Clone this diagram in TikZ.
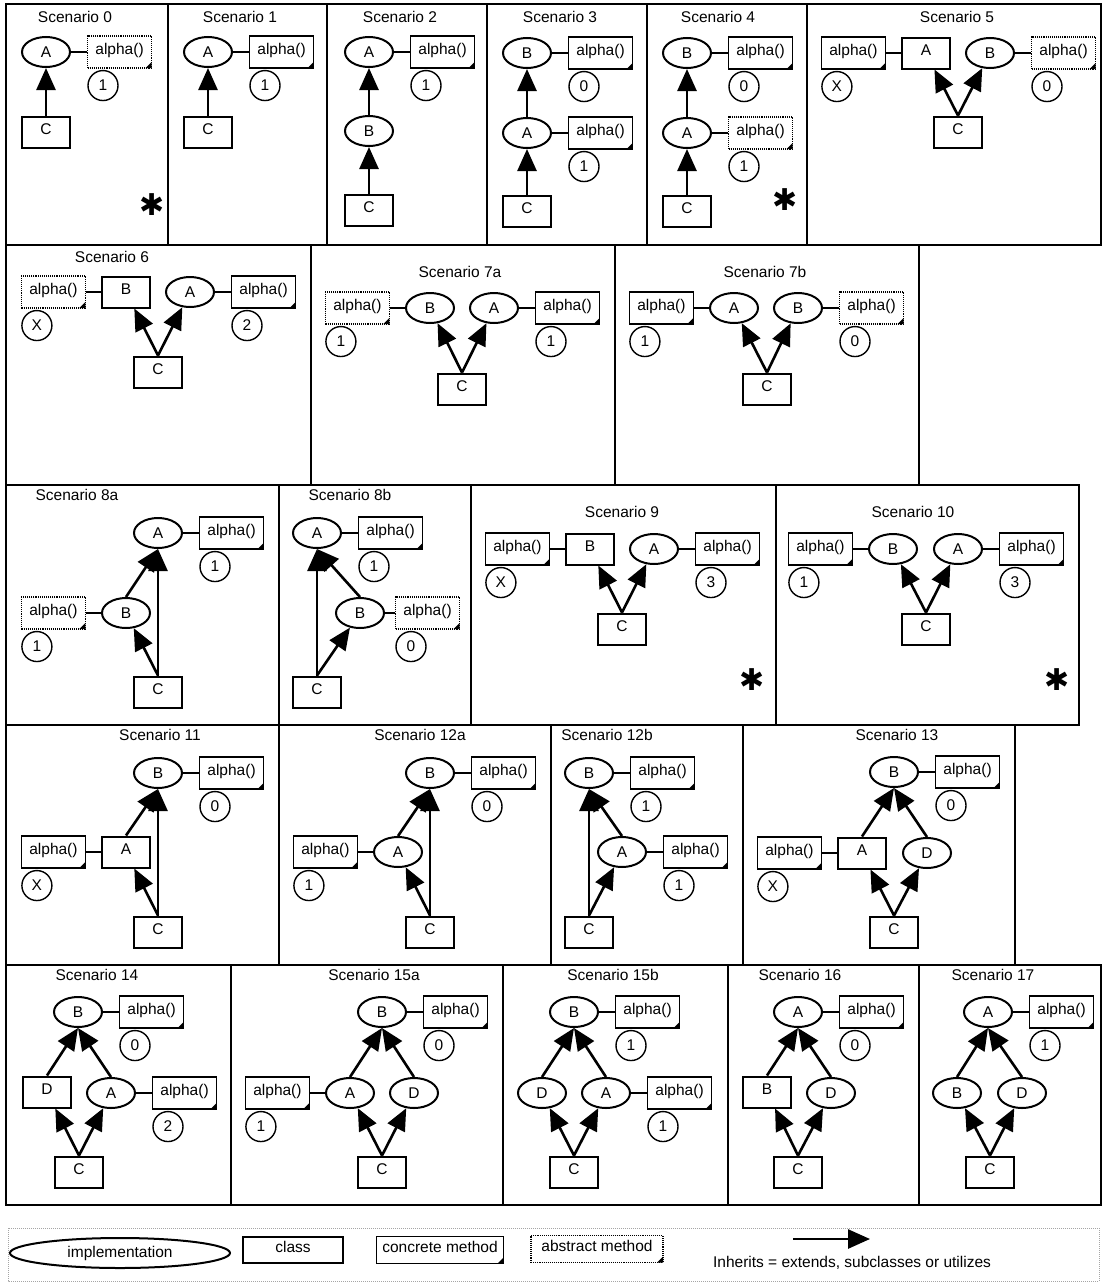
\documentclass[tikz,border=0pt]{standalone}
\usepackage{fontspec}
\setmainfont{Liberation Sans}
\newfontfamily\symfont{DejaVu Sans}
\usetikzlibrary{arrows.meta,positioning,shapes.geometric}
\definecolor{legendGrey}{RGB}{165,165,165}

\begin{document}
\begin{tikzpicture}[x=1pt,y=-1pt,font=\fontsize{15.5}{18}\selectfont,
    panel/.style={draw,line width=1.6pt},
    ttl/.style={inner sep=0pt},
    impl/.style={ellipse,draw,line width=2pt,minimum width=48pt,minimum height=30pt,inner sep=0pt},
    cls/.style={draw,line width=2pt,minimum width=48pt,minimum height=31pt,inner sep=0pt,
                text height=11pt,text depth=7pt},
    meth/.style={draw,line width=1.1pt,minimum width=64pt,minimum height=32pt,inner sep=0pt,
                 text height=11pt,text depth=7pt,
                 path picture={\fill ([xshift=-6pt]path picture bounding box.south east)
                   -- (path picture bounding box.south east)
                   -- ([yshift=6pt]path picture bounding box.south east) -- cycle;}},
    abst/.style={meth,densely dotted},
    num/.style={circle,draw,line width=1.4pt,minimum size=30pt,inner sep=0pt},
    link/.style={line width=1.1pt},
    inh/.style={line width=2.6pt,-{Triangle[length=22pt,width=19pt]}},
    star/.style={font=\symfont\fontsize{30}{30}\selectfont,inner sep=0pt}]

    \useasboundingbox (0,0) rectangle (1103,1282);

    % panel frames, row by row
    \foreach \xa/\xb in {6/168,168/327,327/487,487/647,647/807,807/1101}
      \draw[panel] (\xa,4) rectangle (\xb,245);
    \foreach \xa/\xb in {6/311,311/615,615/919}
      \draw[panel] (\xa,245) rectangle (\xb,485);
    \foreach \xa/\xb in {6/279,279/471,471/776,776/1079}
      \draw[panel] (\xa,485) rectangle (\xb,725);
    \foreach \xa/\xb in {6/279,279/551,551/743,743/1015}
      \draw[panel] (\xa,725) rectangle (\xb,965);
    \foreach \xa/\xb in {6/231,231/503,503/728,728/919,919/1101}
      \draw[panel] (\xa,965) rectangle (\xb,1205);

    % Scenario 0
    \node[ttl] (t0) at (75,17) {Scenario 0};
    \node[impl] (A0) at (46,52) {A};
    \node[abst,right=16pt of A0] (mA0) {alpha()};
    \node[num] (nA0) at ([xshift=16pt,yshift=-17pt]mA0.south west) {1};
    \node[cls] (C0) at (46,132) {C};
    \node[star] (k0) at (152,205) {✱};
    \draw[link] (A0) -- (mA0);
    \draw[inh] (C0) -- (A0);

    % Scenario 1
    \node[ttl] (t1) at (240,17) {Scenario 1};
    \node[impl] (A1) at (208,52) {A};
    \node[meth,right=16pt of A1] (mA1) {alpha()};
    \node[num] (nA1) at ([xshift=16pt,yshift=-17pt]mA1.south west) {1};
    \node[cls] (C1) at (208,132) {C};
    \draw[link] (A1) -- (mA1);
    \draw[inh] (C1) -- (A1);

    % Scenario 2
    \node[ttl] (t2) at (400,17) {Scenario 2};
    \node[impl] (A2) at (369,52) {A};
    \node[meth,right=16pt of A2] (mA2) {alpha()};
    \node[num] (nA2) at ([xshift=16pt,yshift=-17pt]mA2.south west) {1};
    \node[impl] (B2) at (369,131) {B};
    \node[cls] (C2) at (369,210) {C};
    \draw[link] (A2) -- (mA2);
    \draw[inh] (C2) -- (B2);
    \draw[inh] (B2) -- (A2);

    % Scenario 3
    \node[ttl] (t3) at (560,17) {Scenario 3};
    \node[impl] (B3) at (527,53) {B};
    \node[meth,right=16pt of B3] (mB3) {alpha()};
    \node[num] (nB3) at ([xshift=16pt,yshift=-17pt]mB3.south west) {0};
    \node[impl] (A3) at (527,133) {A};
    \node[meth,right=16pt of A3] (mA3) {alpha()};
    \node[num] (nA3) at ([xshift=16pt,yshift=-17pt]mA3.south west) {1};
    \node[cls] (C3) at (527,211) {C};
    \draw[link] (B3) -- (mB3);
    \draw[link] (A3) -- (mA3);
    \draw[inh] (C3) -- (A3);
    \draw[inh] (A3) -- (B3);

    % Scenario 4
    \node[ttl] (t4) at (718,17) {Scenario 4};
    \node[impl] (B4) at (687,53) {B};
    \node[meth,right=16pt of B4] (mB4) {alpha()};
    \node[num] (nB4) at ([xshift=16pt,yshift=-17pt]mB4.south west) {0};
    \node[impl] (A4) at (687,133) {A};
    \node[abst,right=16pt of A4] (mA4) {alpha()};
    \node[num] (nA4) at ([xshift=16pt,yshift=-17pt]mA4.south west) {1};
    \node[cls] (C4) at (687,211) {C};
    \node[star] (k4) at (785,200) {✱};
    \draw[link] (B4) -- (mB4);
    \draw[link] (A4) -- (mA4);
    \draw[inh] (C4) -- (A4);
    \draw[inh] (A4) -- (B4);

    % Scenario 5
    \node[ttl] (t5) at (957,17) {Scenario 5};
    \node[cls] (A5) at (926,53) {A};
    \node[meth,left=15pt of A5] (mA5) {alpha()};
    \node[num] (nA5) at ([xshift=16pt,yshift=-17pt]mA5.south west) {X};
    \node[impl] (B5) at (990,53) {B};
    \node[abst,right=16pt of B5] (mB5) {alpha()};
    \node[num] (nB5) at ([xshift=16pt,yshift=-17pt]mB5.south west) {0};
    \node[cls] (C5) at (958,132) {C};
    \draw[link] (A5) -- (mA5);
    \draw[link] (B5) -- (mB5);
    \draw[inh] (C5.north) -- (A5);
    \draw[inh] (C5.north) -- (B5);

    % Scenario 6
    \node[ttl] (t6) at (112,257) {Scenario 6};
    \node[cls] (B6) at (126,292) {B};
    \node[abst,left=15pt of B6] (mB6) {alpha()};
    \node[num] (nB6) at ([xshift=16pt,yshift=-17pt]mB6.south west) {X};
    \node[impl] (A6) at (190,292) {A};
    \node[meth,right=16pt of A6] (mA6) {alpha()};
    \node[num] (nA6) at ([xshift=16pt,yshift=-17pt]mA6.south west) {2};
    \node[cls] (C6) at (158,372) {C};
    \draw[link] (B6) -- (mB6);
    \draw[link] (A6) -- (mA6);
    \draw[inh] (C6.north) -- (B6);
    \draw[inh] (C6.north) -- (A6);

    % Scenario 7a
    \node[ttl] (t7a) at (460,272) {Scenario 7a};
    \node[impl] (B7a) at (430,308) {B};
    \node[abst,left=15pt of B7a] (mB7a) {alpha()};
    \node[num] (nB7a) at ([xshift=16pt,yshift=-17pt]mB7a.south west) {1};
    \node[impl] (A7a) at (494,308) {A};
    \node[meth,right=16pt of A7a] (mA7a) {alpha()};
    \node[num] (nA7a) at ([xshift=16pt,yshift=-17pt]mA7a.south west) {1};
    \node[cls] (C7a) at (462,389) {C};
    \draw[link] (B7a) -- (mB7a);
    \draw[link] (A7a) -- (mA7a);
    \draw[inh] (C7a.north) -- (B7a);
    \draw[inh] (C7a.north) -- (A7a);

    % Scenario 7b
    \node[ttl] (t7b) at (765,272) {Scenario 7b};
    \node[impl] (A7b) at (734,308) {A};
    \node[meth,left=15pt of A7b] (mA7b) {alpha()};
    \node[num] (nA7b) at ([xshift=16pt,yshift=-17pt]mA7b.south west) {1};
    \node[impl] (B7b) at (798,308) {B};
    \node[abst,right=16pt of B7b] (mB7b) {alpha()};
    \node[num] (nB7b) at ([xshift=16pt,yshift=-17pt]mB7b.south west) {0};
    \node[cls] (C7b) at (767,389) {C};
    \draw[link] (A7b) -- (mA7b);
    \draw[link] (B7b) -- (mB7b);
    \draw[inh] (C7b.north) -- (A7b);
    \draw[inh] (C7b.north) -- (B7b);

    % Scenario 8a
    \node[ttl] (t8a) at (77,495) {Scenario 8a};
    \node[impl] (A8a) at (158,533) {A};
    \node[meth,right=16pt of A8a] (mA8a) {alpha()};
    \node[num] (nA8a) at ([xshift=16pt,yshift=-17pt]mA8a.south west) {1};
    \node[impl] (B8a) at (126,613) {B};
    \node[abst,left=15pt of B8a] (mB8a) {alpha()};
    \node[num] (nB8a) at ([xshift=16pt,yshift=-17pt]mB8a.south west) {1};
    \node[cls] (C8a) at (158,692) {C};
    \draw[link] (A8a) -- (mA8a);
    \draw[link] (B8a) -- (mB8a);
    \draw[inh] (C8a) -- (A8a);
    \draw[inh] (B8a.north) -- (A8a.south);
    \draw[inh] (C8a.north) -- (B8a);

    % Scenario 8b
    \node[ttl] (t8b) at (350,495) {Scenario 8b};
    \node[impl] (A8b) at (317,533) {A};
    \node[meth,right=16pt of A8b] (mA8b) {alpha()};
    \node[num] (nA8b) at ([xshift=16pt,yshift=-17pt]mA8b.south west) {1};
    \node[impl] (B8b) at (360,613) {B};
    \node[abst,right=10pt of B8b] (mB8b) {alpha()};
    \node[num] (nB8b) at ([xshift=16pt,yshift=-17pt]mB8b.south west) {0};
    \node[cls] (C8b) at (317,692) {C};
    \draw[link] (A8b) -- (mA8b);
    \draw[link] (B8b) -- (mB8b);
    \draw[inh] (C8b) -- (A8b);
    \draw[inh] (B8b.north) -- (A8b.south);
    \draw[inh] (C8b.north) -- (B8b);

    % Scenario 9
    \node[ttl] (t9) at (622,512) {Scenario 9};
    \node[cls] (B9) at (590,549) {B};
    \node[meth,left=15pt of B9] (mB9) {alpha()};
    \node[num] (nB9) at ([xshift=16pt,yshift=-17pt]mB9.south west) {X};
    \node[impl] (A9) at (654,549) {A};
    \node[meth,right=16pt of A9] (mA9) {alpha()};
    \node[num] (nA9) at ([xshift=16pt,yshift=-17pt]mA9.south west) {3};
    \node[cls] (C9) at (622,629) {C};
    \node[star] (k9) at (752,680) {✱};
    \draw[link] (B9) -- (mB9);
    \draw[link] (A9) -- (mA9);
    \draw[inh] (C9.north) -- (B9);
    \draw[inh] (C9.north) -- (A9);

    % Scenario 10
    \node[ttl] (t10) at (913,512) {Scenario 10};
    \node[impl] (B10) at (893,549) {B};
    \node[meth,left=15pt of B10] (mB10) {alpha()};
    \node[num] (nB10) at ([xshift=16pt,yshift=-17pt]mB10.south west) {1};
    \node[impl] (A10) at (958,549) {A};
    \node[meth,right=16pt of A10] (mA10) {alpha()};
    \node[num] (nA10) at ([xshift=16pt,yshift=-17pt]mA10.south west) {3};
    \node[cls] (C10) at (926,629) {C};
    \node[star] (k10) at (1057,680) {✱};
    \draw[link] (B10) -- (mB10);
    \draw[link] (A10) -- (mA10);
    \draw[inh] (C10.north) -- (B10);
    \draw[inh] (C10.north) -- (A10);

    % Scenario 11
    \node[ttl] (t11) at (160,735) {Scenario 11};
    \node[impl] (B11) at (158,773) {B};
    \node[meth,right=16pt of B11] (mB11) {alpha()};
    \node[num] (nB11) at ([xshift=16pt,yshift=-17pt]mB11.south west) {0};
    \node[cls] (A11) at (126,852) {A};
    \node[meth,left=15pt of A11] (mA11) {alpha()};
    \node[num] (nA11) at ([xshift=16pt,yshift=-17pt]mA11.south west) {X};
    \node[cls] (C11) at (158,932) {C};
    \draw[link] (B11) -- (mB11);
    \draw[link] (A11) -- (mA11);
    \draw[inh] (C11) -- (B11);
    \draw[inh] (A11.north) -- (B11.south);
    \draw[inh] (C11.north) -- (A11);

    % Scenario 12a
    \node[ttl] (t12a) at (420,735) {Scenario 12a};
    \node[impl] (B12a) at (430,773) {B};
    \node[meth,right=16pt of B12a] (mB12a) {alpha()};
    \node[num] (nB12a) at ([xshift=16pt,yshift=-17pt]mB12a.south west) {0};
    \node[impl] (A12a) at (398,852) {A};
    \node[meth,left=15pt of A12a] (mA12a) {alpha()};
    \node[num] (nA12a) at ([xshift=16pt,yshift=-17pt]mA12a.south west) {1};
    \node[cls] (C12a) at (430,932) {C};
    \draw[link] (B12a) -- (mB12a);
    \draw[link] (A12a) -- (mA12a);
    \draw[inh] (C12a) -- (B12a);
    \draw[inh] (A12a.north) -- (B12a.south);
    \draw[inh] (C12a.north) -- (A12a);

    % Scenario 12b
    \node[ttl] (t12b) at (607,735) {Scenario 12b};
    \node[impl] (B12b) at (589,773) {B};
    \node[meth,right=16pt of B12b] (mB12b) {alpha()};
    \node[num] (nB12b) at ([xshift=16pt,yshift=-17pt]mB12b.south west) {1};
    \node[impl] (A12b) at (622,852) {A};
    \node[meth,right=16pt of A12b] (mA12b) {alpha()};
    \node[num] (nA12b) at ([xshift=16pt,yshift=-17pt]mA12b.south west) {1};
    \node[cls] (C12b) at (589,932) {C};
    \draw[link] (B12b) -- (mB12b);
    \draw[link] (A12b) -- (mA12b);
    \draw[inh] (C12b) -- (B12b);
    \draw[inh] (A12b.north) -- (B12b.south);
    \draw[inh] (C12b.north) -- (A12b);

    % Scenario 13
    \node[ttl] (t13) at (897,735) {Scenario 13};
    \node[impl] (B13) at (894,772) {B};
    \node[meth,right=16pt of B13] (mB13) {alpha()};
    \node[num] (nB13) at ([xshift=16pt,yshift=-17pt]mB13.south west) {0};
    \node[cls] (A13) at (862,853) {A};
    \node[meth,left=15pt of A13] (mA13) {alpha()};
    \node[num] (nA13) at ([xshift=16pt,yshift=-17pt]mA13.south west) {X};
    \node[impl] (D13) at (927,853) {D};
    \node[cls] (C13) at (894,932) {C};
    \draw[link] (B13) -- (mB13);
    \draw[link] (A13) -- (mA13);
    \draw[inh] (A13.north) -- (B13.south);
    \draw[inh] (D13.north) -- (B13.south);
    \draw[inh] (C13.north) -- (A13);
    \draw[inh] (C13.north) -- (D13);

    % Scenario 14
    \node[ttl] (t14) at (97,975) {Scenario 14};
    \node[impl] (B14) at (78,1012) {B};
    \node[meth,right=16pt of B14] (mB14) {alpha()};
    \node[num] (nB14) at ([xshift=16pt,yshift=-17pt]mB14.south west) {0};
    \node[cls] (D14) at (47,1092) {D};
    \node[impl] (A14) at (111,1093) {A};
    \node[meth,right=16pt of A14] (mA14) {alpha()};
    \node[num] (nA14) at ([xshift=16pt,yshift=-17pt]mA14.south west) {2};
    \node[cls] (C14) at (79,1172) {C};
    \draw[link] (B14) -- (mB14);
    \draw[link] (A14) -- (mA14);
    \draw[inh] (D14.north) -- (B14.south);
    \draw[inh] (A14.north) -- (B14.south);
    \draw[inh] (C14.north) -- (D14);
    \draw[inh] (C14.north) -- (A14);

    % Scenario 15a
    \node[ttl] (t15a) at (374,975) {Scenario 15a};
    \node[impl] (B15a) at (382,1012) {B};
    \node[meth,right=16pt of B15a] (mB15a) {alpha()};
    \node[num] (nB15a) at ([xshift=16pt,yshift=-17pt]mB15a.south west) {0};
    \node[impl] (A15a) at (350,1093) {A};
    \node[meth,left=15pt of A15a] (mA15a) {alpha()};
    \node[num] (nA15a) at ([xshift=16pt,yshift=-17pt]mA15a.south west) {1};
    \node[impl] (D15a) at (414,1093) {D};
    \node[cls] (C15a) at (382,1172) {C};
    \draw[link] (B15a) -- (mB15a);
    \draw[link] (A15a) -- (mA15a);
    \draw[inh] (A15a.north) -- (B15a.south);
    \draw[inh] (D15a.north) -- (B15a.south);
    \draw[inh] (C15a.north) -- (A15a);
    \draw[inh] (C15a.north) -- (D15a);

    % Scenario 15b
    \node[ttl] (t15b) at (613,975) {Scenario 15b};
    \node[impl] (B15b) at (574,1012) {B};
    \node[meth,right=16pt of B15b] (mB15b) {alpha()};
    \node[num] (nB15b) at ([xshift=16pt,yshift=-17pt]mB15b.south west) {1};
    \node[impl] (D15b) at (542,1093) {D};
    \node[impl] (A15b) at (606,1093) {A};
    \node[meth,right=16pt of A15b] (mA15b) {alpha()};
    \node[num] (nA15b) at ([xshift=16pt,yshift=-17pt]mA15b.south west) {1};
    \node[cls] (C15b) at (574,1172) {C};
    \draw[link] (B15b) -- (mB15b);
    \draw[link] (A15b) -- (mA15b);
    \draw[inh] (D15b.north) -- (B15b.south);
    \draw[inh] (A15b.north) -- (B15b.south);
    \draw[inh] (C15b.north) -- (D15b);
    \draw[inh] (C15b.north) -- (A15b);

    % Scenario 16
    \node[ttl] (t16) at (800,975) {Scenario 16};
    \node[impl] (A16) at (798,1012) {A};
    \node[meth,right=16pt of A16] (mA16) {alpha()};
    \node[num] (nA16) at ([xshift=16pt,yshift=-17pt]mA16.south west) {0};
    \node[cls] (B16) at (767,1092) {B};
    \node[impl] (D16) at (831,1093) {D};
    \node[cls] (C16) at (798,1172) {C};
    \draw[link] (A16) -- (mA16);
    \draw[inh] (B16.north) -- (A16.south);
    \draw[inh] (D16.north) -- (A16.south);
    \draw[inh] (C16.north) -- (B16);
    \draw[inh] (C16.north) -- (D16);

    % Scenario 17
    \node[ttl] (t17) at (993,975) {Scenario 17};
    \node[impl] (A17) at (988,1012) {A};
    \node[meth,right=16pt of A17] (mA17) {alpha()};
    \node[num] (nA17) at ([xshift=16pt,yshift=-17pt]mA17.south west) {1};
    \node[impl] (B17) at (957,1093) {B};
    \node[impl] (D17) at (1022,1093) {D};
    \node[cls] (C17) at (990,1172) {C};
    \draw[link] (A17) -- (mA17);
    \draw[inh] (B17.north) -- (A17.south);
    \draw[inh] (D17.north) -- (A17.south);
    \draw[inh] (C17.north) -- (B17);
    \draw[inh] (C17.north) -- (D17);

    % legend
    \draw[legendGrey,densely dotted,line width=1pt] (8,1228) rectangle (1099,1281);
    \node[impl,minimum width=220pt] (lImpl) at (120,1253) {implementation};
    \node[cls,minimum width=100pt,minimum height=26pt] (lCls) at (293,1250) {class};
    \node[meth,minimum width=127pt,minimum height=27pt] (lCon) at (440,1250) {concrete method};
    \node[abst,minimum width=132pt,minimum height=27pt] (lAbs) at (597,1249) {abstract method};
    \coordinate (lTail) at (793,1239);
    \coordinate (lHead) at (870,1239);
    \draw[inh] (lTail) -- (lHead);
    \node (lInh) at (852,1263) {Inherits = extends, subclasses or utilizes};
\end{tikzpicture}
\end{document}
